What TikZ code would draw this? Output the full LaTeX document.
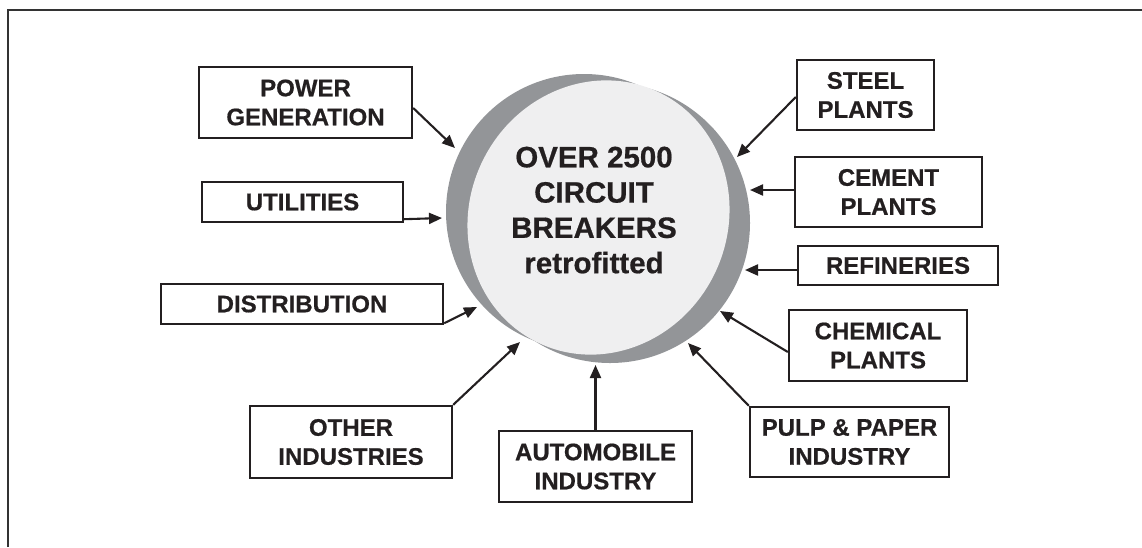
\documentclass[tikz,border=0pt]{standalone}
\usepackage{fontspec}
\setmainfont{Liberation Sans}[BoldFeatures={FakeBold=0.6}]
\usetikzlibrary{arrows.meta}
\definecolor{ink}{HTML}{231F20}
\definecolor{ringgray}{HTML}{939598}
\definecolor{corefill}{HTML}{EFEFF0}
\begin{document}
\begin{tikzpicture}[x=1pt,y=-1pt,
  lbox/.style={draw=ink, line width=2.4pt, rectangle, inner sep=0pt, align=center,
    text=ink, font=\fontsize{24}{29}\selectfont\bfseries},
  feed/.style={draw=ink, line width=2.1pt, -{Triangle[length=13pt,width=11pt]}},
]
\useasboundingbox (0,0) rectangle (1142,547);
% frame
\draw[line width=1.3pt, draw=black!80] (8,547) -- (8,10) -- (1142,10);
% hub
\fill[ringgray] (584,212) circle[radius=138pt];
\fill[ringgray] (610,223) circle[radius=140pt];
\fill[corefill, rotate around={63.7:(598.5,217.5)}] (598.5,217.5) ellipse[x radius=139pt, y radius=129pt];
\node[anchor=north, align=center, text=ink, inner sep=0pt,
  font=\fontsize{29.5}{35.3}\selectfont\bfseries] (hubtext) at (594,146.5)
  {OVER 2500\\CIRCUIT\\BREAKERS\\retrofitted};
% boxes
\node[lbox, minimum width=213pt, minimum height=71pt] (pow) at (305.5,102.5) {POWER\\GENERATION};
\node[lbox, minimum width=201pt, minimum height=40pt] (util) at (302.5,202) {UTILITIES};
\node[lbox, minimum width=282pt, minimum height=40pt] (dist) at (302,304) {DISTRIBUTION};
\node[lbox, minimum width=202pt, minimum height=72pt] (other) at (351,442) {OTHER\\INDUSTRIES};
\node[lbox, minimum width=193pt, minimum height=71pt] (automob) at (595.5,466.5) {AUTOMOBILE\\INDUSTRY};
\node[lbox, minimum width=199pt, minimum height=70pt] (pulp) at (849.5,442) {PULP \& PAPER\\INDUSTRY};
\node[lbox, minimum width=178pt, minimum height=71pt] (chem) at (878,345.5) {CHEMICAL\\PLANTS};
\node[lbox, minimum width=200pt, minimum height=39pt] (refin) at (898,265.5) {REFINERIES};
\node[lbox, minimum width=187pt, minimum height=70pt] (cem) at (888.5,192) {CEMENT\\PLANTS};
\node[lbox, minimum width=137pt, minimum height=70pt] (steel) at (865.5,95) {STEEL\\PLANTS};
% arrow tips at the hub
\coordinate (tPow) at (455,148);
\coordinate (tUtil) at (442,218);
\coordinate (tDist) at (477,307);
\coordinate (tOther) at (520,342);
\coordinate (tAuto) at (595.5,365);
\coordinate (tPulp) at (688,343);
\coordinate (tChem) at (720,311);
\coordinate (tRef) at (745,270);
\coordinate (tCem) at (750,190);
\coordinate (tSteel) at (737,157);
% connectors
\draw[feed] ([yshift=-5.5pt]pow.east) -- (tPow);
\draw[feed] ([yshift=4pt]util.south east) -- (tUtil);
\draw[feed] ([yshift=2pt]dist.south east) -- (tDist);
\draw[feed] (other.north east) -- (tOther);
\draw[feed] (automob.north) -- (tAuto);
\draw[feed] (pulp.north west) -- (tPulp);
\draw[feed] ([yshift=-6.5pt]chem.west) -- (tChem);
\draw[feed] ([yshift=-4.5pt]refin.west) -- (tRef);
\draw[feed] ([yshift=2pt]cem.west) -- (tCem);
\draw[feed] ([yshift=-2pt]steel.west) -- (tSteel);
\end{tikzpicture}
\end{document}
